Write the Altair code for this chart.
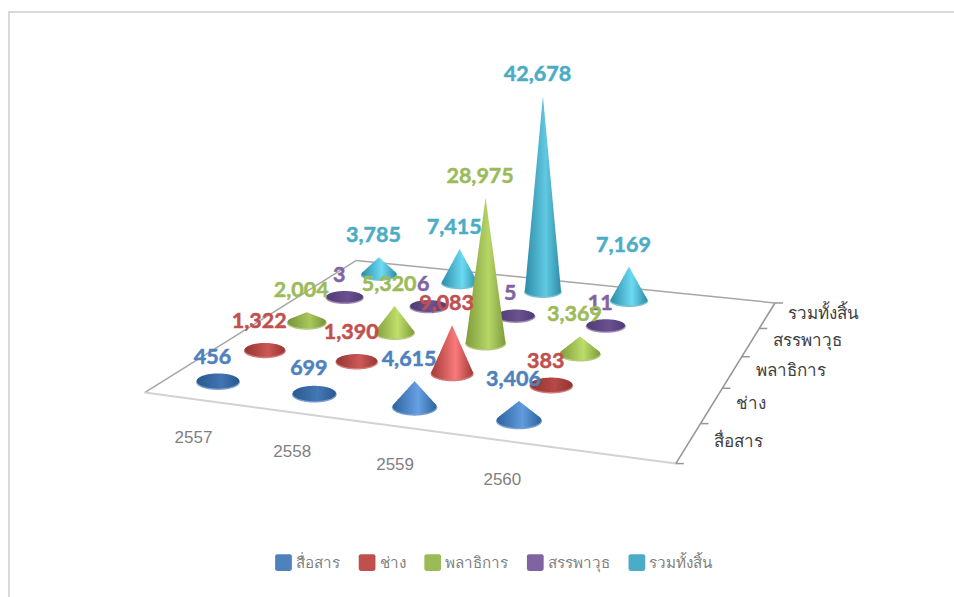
import altair as alt
import numpy as np
import pandas as pd

# Personnel counts by branch and fiscal year
years = ["2557", "2558", "2559", "2560"]
branches = ["สื่อสาร", "ช่าง", "พลาธิการ", "สรรพาวุธ", "รวมทั้งสิ้น"]
signal = [456, 699, 4615, 3406]
engineer = [1322, 1390, 9083, 383]
quartermaster = [2004, 5320, 28975, 3369]
ordnance = [3, 6, 5, 11]
total = [3785, 7415, 42678, 7169]
series_values = [signal, engineer, quartermaster, ordnance, total]

palette = ["#4F81BD", "#C0504D", "#9BBB59", "#8064A2", "#4BACC6"]
edge_tones = ["#2F639F", "#A33A38", "#7F9C3C", "#5C4484", "#2E8CA8"]
glow_tones = ["#66A3E6", "#FF7F7F", "#C2E26C", "#8F72B5", "#6FDDF5"]
WIDTH, HEIGHT = 954, 597

# Perspective of the chart floor: grid coordinates (year index, branch index) to page pixels
grid_anchor = np.array([[0, 0], [3, 0], [3, 4], [0, 4]], float)
page_anchor = np.array([[218, 382], [519, 421], [629, 301], [379, 275]], float)


def fit_homography(src, dst):
    rows, rhs = [], []
    for (u, v), (x, y) in zip(src, dst):
        rows.append([u, v, 1, 0, 0, 0, -u * x, -v * x])
        rows.append([0, 0, 0, u, v, 1, -u * y, -v * y])
        rhs += [x, y]
    return np.append(np.linalg.solve(np.array(rows), np.array(rhs)), 1).reshape(3, 3)


H = fit_homography(grid_anchor, page_anchor)


def project(u, v):
    px, py, pw = H @ np.array([u, v, 1.0])
    return px / pw, py / pw


def mix(c1, c2, t):
    a = [int(c1[i:i + 2], 16) for i in (1, 3, 5)]
    b = [int(c2[i:i + 2], 16) for i in (1, 3, 5)]
    return "#" + "".join(f"{round(p + (q - p) * t):02X}" for p, q in zip(a, b))


X = alt.X("x:Q", scale=alt.Scale(domain=[0, WIDTH], nice=False, zero=False), axis=None)
Y = alt.Y("y:Q", scale=alt.Scale(domain=[HEIGHT, 0], nice=False, zero=False), axis=None)
X2, Y2 = alt.X2("x2:Q"), alt.Y2("y2:Q")


def segment_layer(points, color, width):
    df = pd.DataFrame(points, columns=["x", "y", "x2", "y2"])
    return alt.Chart(df).mark_rule(color=color, strokeWidth=width).encode(x=X, y=Y, x2=X2, y2=Y2)


layers = []

# Chart frame, top and left edges only
layers.append(alt.Chart(pd.DataFrame({"k": [0]})).mark_rule(color="#D9D9D9", strokeWidth=2).encode(
    x=alt.value(9), y=alt.value(11), y2=alt.value(HEIGHT)))
layers.append(alt.Chart(pd.DataFrame({"k": [0]})).mark_rule(color="#D9D9D9", strokeWidth=2).encode(
    x=alt.value(8), x2=alt.value(WIDTH), y=alt.value(12)))

# Floor outline; the floor keeps one empty year slot on the right
u0, u1, v0, v1 = -0.5, 4.54, -0.5, 4.5
layers.append(segment_layer([project(u0, v0) + project(u0, v1), project(u0, v1) + project(u1, v1)], "#A6A6A6", 1.5))
layers.append(segment_layer([project(u0, v0) + project(u1, v0)], "#D2D2D2", 2))
layers.append(segment_layer([project(u1, v0) + project(u1, v1)], "#969696", 1.6))

# Tick marks along the branch axis
ticks = []
for r in range(len(branches) + 1):
    px, py = project(u1, r - 0.5)
    ticks.append((px, py, px + 8, py))
layers.append(segment_layer(ticks, "#969696", 1.5))

# Hidden swatch carriers that supply the legend
swatch_rows = []
for i, name in enumerate(branches):
    px, py = project(1.0, i)
    swatch_rows.append({"x": px, "y": py, "branch": name})
layers.append(alt.Chart(pd.DataFrame(swatch_rows)).mark_point(filled=True, shape="square", opacity=1, size=1).encode(
    x=X, y=Y,
    color=alt.Color("branch:N", sort=branches, scale=alt.Scale(domain=branches, range=palette),
                    legend=alt.Legend(
                        orient="none", legendX=275, legendY=554, direction="horizontal", columns=5,
                        title=None, symbolType="M-1,-0.75 Q-1,-1 -0.75,-1 L0.75,-1 Q1,-1 1,-0.75 L1,0.75 Q1,1 0.75,1 L-0.75,1 Q-1,1 -1,0.75 Z",
                        symbolSize=280, symbolStrokeWidth=0, labelFontSize=15.2, labelColor="#7F7F7F",
                        labelFont="Noto Sans", labelOffset=4, columnPadding=18.6, labelLimit=120,
                    ))))


def cone_frames(cx, cy, a, b, h):
    """Outline of a cone: rim ellipse plus the upper silhouette, sampled across its width."""
    xs = list(np.linspace(-a, a, 61))
    if h > b:
        xt = a * np.sqrt(1 - (b / h) ** 2)
        yt = b * b / h
        xs += [-xt, 0.0, xt]
    xs = sorted(set(xs))
    rows = []
    for dx in xs:
        arc = b * np.sqrt(max(0.0, 1 - (dx / a) ** 2))
        top = arc
        if h > b and abs(dx) <= xt:
            top = h + (yt - h) * abs(dx) / xt
        rows.append({"x": cx + dx, "y": cy - top, "y2": cy + arc})
    return pd.DataFrame(rows)


labels = []
year_count = len(years)
# Painted from the back row to the front row
for r in reversed(range(len(branches))):
    row_spacing = (project(year_count - 1, r)[0] - project(0, r)[0]) / (year_count - 1)
    for c in range(year_count):
        value = series_values[r][c]
        cx, cy = project(c, r)
        a = 0.225 * row_spacing * (1 + 0.015 * (c - 1.5))
        b = a * (0.36 - 0.012 * r)
        h = value * a * 0.000242
        roundness = min(1.0, h / (2.6 * b))
        edge = mix(mix(edge_tones[r], "#000000", 0.12), edge_tones[r], roundness)
        glow = mix(mix(edge_tones[r], palette[r], 0.4), glow_tones[r], roundness)
        # Tall cones catch less highlight along their length
        glow = mix(glow, palette[r], 0.4 * min(1.0, h / 190))
        rim = mix(palette[r], "#FFFFFF", 0.25)

        rim_df = cone_frames(cx, cy, a, b, 0)
        layers.append(alt.Chart(rim_df).mark_area(color=rim, interpolate="linear").encode(x=X, y=Y, y2=Y2))

        body_df = cone_frames(cx, cy - 1.0, a - 0.8, b - 0.4, h)
        shade = alt.Gradient(
            gradient="linear", x1=0, x2=1, y1=0, y2=0,
            stops=[alt.GradientStop(offset=0.0, color=edge),
                   alt.GradientStop(offset=0.58, color=glow),
                   alt.GradientStop(offset=1.0, color=edge)],
        )
        layers.append(alt.Chart(body_df).mark_area(color=shade, interpolate="linear").encode(x=X, y=Y, y2=Y2))
        labels.append({"x": cx - 5.5, "y": cy - h - 22, "text": f"{value:,}", "tone": palette[r]})

# Value labels sit above every cone
layers.append(alt.Chart(pd.DataFrame(labels)).mark_text(
    font="Lato", fontWeight="bold", fontSize=21.5, align="center", baseline="middle", strokeWidth=0.5).encode(
    x=X, y=Y, text="text:N", color=alt.Color("tone:N", scale=None), stroke=alt.Stroke("tone:N", scale=None)))

# Category labels along both floor edges
year_rows = []
for c, name in enumerate(years):
    px, py = project(c, -0.5)
    year_rows.append({"x": px + 1, "y": py + 39.5, "text": name})
layers.append(alt.Chart(pd.DataFrame(year_rows)).mark_text(
    font="Liberation Sans", fontSize=17, color="#7F7F7F", align="center", baseline="middle").encode(
    x=X, y=Y, text="text:N"))

branch_rows = []
for r, name in enumerate(branches):
    px, py = project(u1, r)
    # The label gap narrows a little toward the back of the floor
    branch_rows.append({"x": px + 25 - 0.25 * r * r, "y": py - 1, "text": name})
layers.append(alt.Chart(pd.DataFrame(branch_rows)).mark_text(
    font="Noto Sans", fontSize=17, color="#404040", align="left", baseline="middle").encode(
    x=X, y=Y, text="text:N"))

chart = alt.layer(*layers).properties(
    width=WIDTH, height=HEIGHT, padding=0, background="white",
    autosize=alt.AutoSizeParams(type="none"),
).configure_view(stroke=None)

chart.save("out.html", embed_options={"renderer": "svg", "actions": False})
